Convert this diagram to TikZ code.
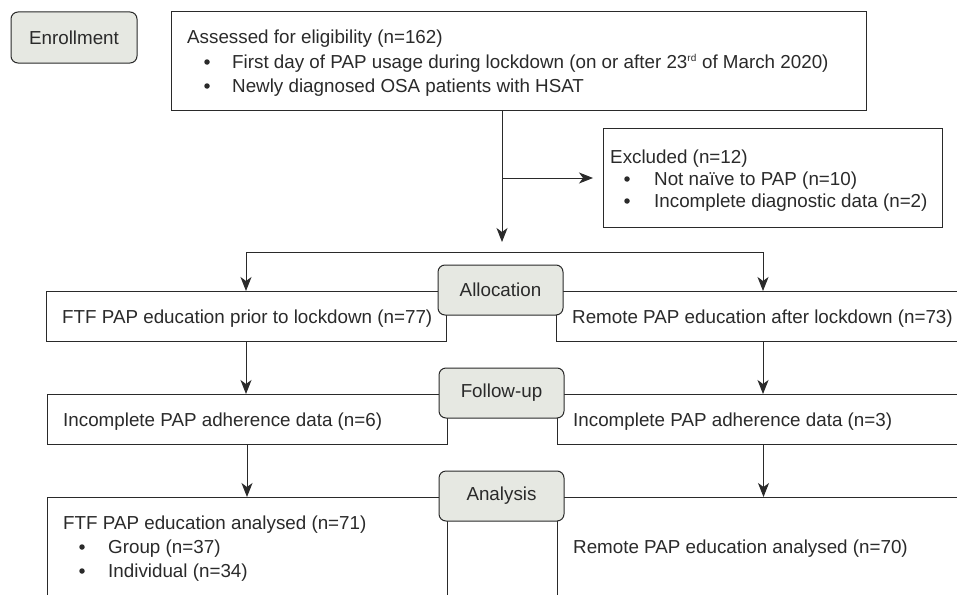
\documentclass[tikz,border=0pt]{standalone}
\usepackage{fontspec}
\setmainfont{Liberation Sans}
\usetikzlibrary{arrows.meta}
\definecolor{ln}{HTML}{2A2A2A}
\definecolor{lbl}{HTML}{E6E8E2}
\begin{document}
\begin{tikzpicture}[x=1pt,y=-1pt,
  every node/.style={font=\fontsize{18.8}{22}\selectfont, text=ln},
  bx/.style={draw=ln, line width=1pt, fill=white, inner sep=0pt, outer sep=0pt},
  stage/.style={draw=ln, line width=1pt, fill=lbl, rounded corners=7pt, inner sep=0pt, outer sep=0pt, minimum width=125pt, minimum height=50pt},
  txt/.style={anchor=base west, inner sep=0pt},
  bul/.style={circle, fill=ln, inner sep=0pt, minimum size=5.5pt},
  arr/.style={draw=ln, line width=1pt, -{Stealth[length=14pt,width=11pt,inset=4pt]}}]
\useasboundingbox (0,0) rectangle (957,594);
\clip (0,0) rectangle (957,594);
\fill[white] (0,0) rectangle (957,594);

% boxes
\node[bx, minimum width=695pt, minimum height=98pt] (assess) at (518.5,61) {};
\node[bx, minimum width=339pt, minimum height=99pt] (excl) at (772.5,177.5) {};
\node[bx, minimum width=400pt, minimum height=50pt] (ftfa) at (246,316) {};
\node[bx, minimum width=414pt, minimum height=50pt] (rema) at (763,316) {};
\node[bx, minimum width=400pt, minimum height=50pt] (ftfb) at (247,419) {};
\node[bx, minimum width=413pt, minimum height=50pt] (remb) at (763.5,419) {};
\node[bx, minimum width=400pt, minimum height=123pt] (ftfc) at (247,558.5) {};
\node[bx, minimum width=413pt, minimum height=123pt] (remc) at (763.5,558.5) {};

% stage labels
\node[stage, minimum width=126pt, minimum height=51pt] (enroll) at (74,37.5) {Enrollment};
\node[stage] (alloc) at (500.5,290) {Allocation};
\node[stage] (fu) at (501.5,393) {Follow-up};
\node[stage] (anal) at (501.5,496) {Analysis};

% texts
\node[txt] (t1) at (187,44) {Assessed for eligibility (n=162)};
\node[bul] (b1) at (207,62) {};
\node[txt] (t2) at (232,68) {First day of PAP usage during lockdown (on or after 23\textsuperscript{\fontsize{10}{10}\selectfont rd} of March 2020)};
\node[bul] (b2) at (207,86) {};
\node[txt] (t3) at (232,92) {Newly diagnosed OSA patients with HSAT};

\node[txt] (e1) at (610,163) {Excluded (n=12)};
\node[bul] (eb1) at (627,179) {};
\node[txt] (e2) at (654,185) {Not naïve to PAP (n=10)};
\node[bul] (eb2) at (627,201) {};
\node[txt] (e3) at (654,207) {Incomplete diagnostic data (n=2)};

\node[txt] (fa) at (62,323) {FTF PAP education prior to lockdown (n=77)};
\node[txt] (ra) at (572,323) {Remote PAP education after lockdown (n=73)};
\node[txt] (fb) at (63,426) {Incomplete PAP adherence data (n=6)};
\node[txt] (rb) at (573,426) {Incomplete PAP adherence data (n=3)};
\node[txt] (fc) at (63,529) {FTF PAP education analysed (n=71)};
\node[bul] (fcb1) at (82,547) {};
\node[txt] (fc1) at (108,553) {Group (n=37)};
\node[bul] (fcb2) at (82,571) {};
\node[txt] (fc2) at (108,577) {Individual (n=34)};
\node[txt] (rc) at (573,553) {Remote PAP education analysed (n=70)};

% connectors
\coordinate (stemtop) at (502,110);
\coordinate (stemend) at (502,242);
\coordinate (branch) at (502,178);
\coordinate (split) at (504,252);
\draw[arr] (stemtop) -- (stemend);
\draw[arr, shorten >=10pt] (branch) -- (branch -| excl.west);
\draw[arr] (split) -| (ftfa.north);
\draw[arr] (split) -| (rema.north);
\draw[arr] (ftfa.south) -- (ftfa.south |- ftfb.north);
\draw[arr] (rema.south) -- (rema.south |- remb.north);
\draw[arr] (ftfb.south) -- (ftfb.south |- ftfc.north);
\draw[arr] (remb.south) -- (remb.south |- remc.north);
\end{tikzpicture}
\end{document}
